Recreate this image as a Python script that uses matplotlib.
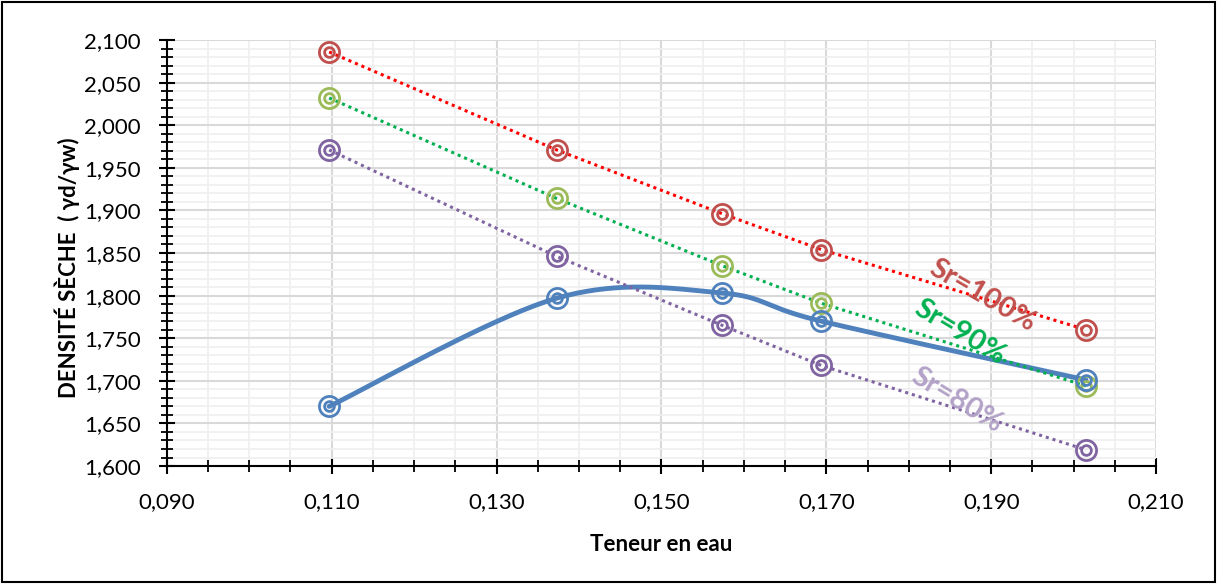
import numpy as np
import matplotlib.pyplot as plt
from matplotlib.ticker import FixedLocator, MultipleLocator, FuncFormatter
from matplotlib.patches import Rectangle

plt.rcParams['font.family'] = ['Lato', 'DejaVu Sans']

# Teneur en eau (water content)
w = [0.1097, 0.1373, 0.1574, 0.1694, 0.2015]

# dry density curves
sr100 = [2.086, 1.971, 1.896, 1.854, 1.760]
sr90 = [2.032, 1.914, 1.835, 1.791, 1.694]
sr80 = [1.971, 1.846, 1.765, 1.718, 1.619]
proctor = [1.670, 1.797, 1.803, 1.770, 1.701]

x_ticks = [0.090, 0.110, 0.130, 0.150, 0.170, 0.190, 0.210]


def smooth_curve(xs, ys, n=40):
    # Excel-like smoothed line: cubic bezier between points (Catmull-Rom tangents)
    p = np.column_stack([xs, ys])
    pts = np.vstack([p[0], p, p[-1]])
    out = []
    for i in range(1, len(pts) - 2):
        p0, p1, p2, p3 = pts[i - 1], pts[i], pts[i + 1], pts[i + 2]
        c1 = p1 + (p2 - p0) / 6
        c2 = p2 - (p3 - p1) / 6
        t = np.linspace(0, 1, n)[:, None]
        seg = (1 - t) ** 3 * p1 + 3 * (1 - t) ** 2 * t * c1 + 3 * (1 - t) * t ** 2 * c2 + t ** 3 * p2
        out.append(seg)
    out = np.vstack(out)
    return out[:, 0], out[:, 1]


def rings(ax, xs, ys, color):
    ax.plot(xs, ys, ls='none', marker='o', ms=14.5, mfc='none', mec=color, mew=2, zorder=4)
    ax.plot(xs, ys, ls='none', marker='o', ms=7, mfc='none', mec=color, mew=2, zorder=4)


fig = plt.figure(figsize=(12.17, 5.84), dpi=100)
ax = fig.add_axes([0.137, 0.202, 0.813, 0.7295])

series = [
    (sr100, '#FF0000', '#C0504D'),
    (sr90, '#00B050', '#9BBB59'),
    (sr80, '#8064A2', '#8064A2'),
]
for ys, lc, mc in series:
    ax.plot(w, ys, color=lc, lw=2.2, ls=(0, (1, 1.3)), dash_capstyle='butt', zorder=3)
    rings(ax, w, ys, mc)

sx, sy = smooth_curve(w, proctor)
ax.plot(sx, sy, color='#4F81BD', lw=3.5, solid_capstyle='round', zorder=2)
rings(ax, w, proctor, '#4F81BD')

ax.set_xlim(0.090, 0.210)
ax.set_ylim(1.600, 2.100)
ax.xaxis.set_major_locator(FixedLocator(x_ticks))
ax.xaxis.set_minor_locator(MultipleLocator(0.005))
ax.yaxis.set_major_locator(MultipleLocator(0.050))
ax.yaxis.set_minor_locator(MultipleLocator(0.010))
fmt = FuncFormatter(lambda v, pos: f"{v:.3f}".replace('.', ','))
ax.xaxis.set_major_formatter(fmt)
ax.yaxis.set_major_formatter(fmt)

ax.grid(which='major', color='#D9D9D9', lw=1.5, zorder=0)
ax.grid(which='minor', color='#F0F0F0', lw=1.3, zorder=0)
ax.set_axisbelow(True)

for s in ['top', 'right']:
    ax.spines[s].set_visible(False)
for s in ['left', 'bottom']:
    ax.spines[s].set_linewidth(1.5)
ax.tick_params(which='major', direction='inout', length=11, width=1.5, labelsize=16, colors='black')
ax.tick_params(which='minor', direction='inout', length=8.5, width=1.3)
ax.tick_params(axis='x', which='major', pad=13)
ax.tick_params(axis='y', which='major', pad=13)

ax.set_xlabel('Teneur en eau', fontsize=16, fontweight='bold', labelpad=16)
ax.set_ylabel('DENSITÉ SÈCHE  ( \u03b3d/\u03b3w)', fontsize=16, fontweight='bold')
ax.yaxis.set_label_coords(-0.088, 0.465)

ax.text(0.1890, 1.800, 'Sr=100%', color='#C0504D', fontsize=21, fontweight='bold',
        rotation=-30, ha='center', va='center', zorder=5)
ax.text(0.1862, 1.757, 'Sr=90%', color='#00B050', fontsize=21, fontweight='bold',
        rotation=-31, ha='center', va='center', zorder=5)
ax.text(0.1858, 1.677, 'Sr=80%', color='#B3A2C7', fontsize=21, fontweight='bold',
        rotation=-31, ha='center', va='center', zorder=5)

fig.patches.append(Rectangle((0.002, 0.003), 0.996, 0.994, transform=fig.transFigure,
                             fill=False, edgecolor='black', lw=1.5))

fig.savefig('out.png', dpi=100)
